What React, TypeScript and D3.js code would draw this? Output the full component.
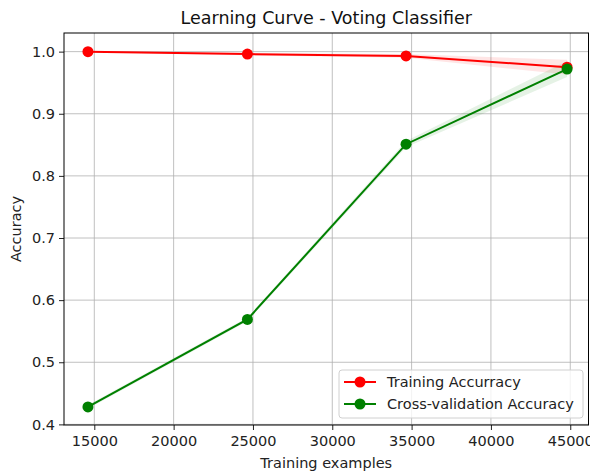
import React, { useRef, useEffect } from 'react';
import * as d3 from 'd3';

const trainSizes = [14600, 24650, 34650, 44800];
const trainMean = [1.0, 0.996, 0.993, 0.975];
const trainStd = [0.0005, 0.002, 0.003, 0.012];
const cvMean = [0.428, 0.569, 0.851, 0.972];
const cvStd = [0.003, 0.003, 0.005, 0.013];
const xTicks = [15000, 20000, 25000, 30000, 35000, 40000, 45000];
const yTicks = [0.4, 0.5, 0.6, 0.7, 0.8, 0.9, 1.0];

const FONT = 'DejaVu Sans, sans-serif';
const FS = 14.5;

export default function App() {
  const ref = useRef<SVGSVGElement | null>(null);

  useEffect(() => {
    const svg = d3.select(ref.current);
    svg.selectAll('*').remove();

    const W = 590;
    const H = 473;
    const margin = { top: 33, right: 1.5, bottom: 48, left: 64 };
    const width = W - margin.left - margin.right;
    const height = H - margin.top - margin.bottom;

    const x = d3.scaleLinear().domain([13090, 46150]).range([0, width]);
    const y = d3.scaleLinear().domain([0.399, 1.03]).range([height, 0]);

    svg.attr('width', W).attr('height', H);
    svg.append('rect').attr('width', W).attr('height', H).attr('fill', '#fff');

    const chart = svg.append('g')
      .attr('transform', `translate(${margin.left},${margin.top})`);

    // Grid
    chart.append('g')
      .selectAll('line')
      .data(xTicks)
      .join('line')
      .attr('x1', d => x(d)).attr('x2', d => x(d))
      .attr('y1', 0).attr('y2', height)
      .attr('stroke', '#b0b0b0').attr('stroke-width', 0.8);
    chart.append('g')
      .selectAll('line')
      .data(yTicks)
      .join('line')
      .attr('y1', d => y(d)).attr('y2', d => y(d))
      .attr('x1', 0).attr('x2', width)
      .attr('stroke', '#b0b0b0').attr('stroke-width', 0.8);

    const pts = trainSizes.map((s, i) => ({
      s, tm: trainMean[i], ts: trainStd[i], cm: cvMean[i], cs: cvStd[i],
    }));
    type P = typeof pts[number];

    // Std bands
    const bandTrain = d3.area<P>()
      .x(d => x(d.s)).y0(d => y(d.tm - d.ts)).y1(d => y(d.tm + d.ts));
    const bandCv = d3.area<P>()
      .x(d => x(d.s)).y0(d => y(d.cm - d.cs)).y1(d => y(d.cm + d.cs));
    chart.append('path').attr('d', bandTrain(pts)!).attr('fill', 'red').attr('fill-opacity', 0.1);
    chart.append('path').attr('d', bandCv(pts)!).attr('fill', 'green').attr('fill-opacity', 0.1);

    const series = [
      { key: 'train', color: 'red', vals: trainMean },
      { key: 'cv', color: 'green', vals: cvMean },
    ];
    const line = d3.line<number>()
      .x((_, i) => x(trainSizes[i]))
      .y(d => y(d));

    series.forEach(s => {
      chart.append('path')
        .attr('d', line(s.vals)!)
        .attr('fill', 'none')
        .attr('stroke', s.color)
        .attr('stroke-width', 2);
      chart.append('g')
        .selectAll('circle')
        .data(s.vals)
        .join('circle')
        .attr('cx', (_, i) => x(trainSizes[i]))
        .attr('cy', d => y(d))
        .attr('r', 5.5)
        .attr('fill', s.color);
    });

    // Axes
    const xAxis = chart.append('g')
      .attr('transform', `translate(0,${height})`)
      .call(d3.axisBottom(x).tickValues(xTicks).tickSize(5).tickPadding(6).tickFormat(d => String(d)));
    const yAxis = chart.append('g')
      .call(d3.axisLeft(y).tickValues(yTicks).tickSize(5).tickPadding(4).tickFormat(d3.format('.1f')));
    [xAxis, yAxis].forEach(a => {
      a.select('.domain').remove();
      a.selectAll('text').attr('font-family', FONT).attr('font-size', FS).attr('fill', '#222');
      a.selectAll('line').attr('stroke', '#222').attr('stroke-width', 1);
    });

    // Frame
    chart.append('rect')
      .attr('width', width).attr('height', height)
      .attr('fill', 'none').attr('stroke', '#000').attr('stroke-width', 1);

    // Legend
    const lg = chart.append('g').attr('transform', `translate(${339 - margin.left},${370 - margin.top})`);
    lg.append('rect')
      .attr('width', 244).attr('height', 48).attr('rx', 3)
      .attr('fill', '#fff').attr('fill-opacity', 0.8)
      .attr('stroke', '#d0d0d0');
    const labels = ['Training Accurracy', 'Cross-validation Accuracy'];
    series.forEach((s, i) => {
      const yy = 12 + i * 22;
      lg.append('line').attr('x1', 5).attr('x2', 37).attr('y1', yy).attr('y2', yy)
        .attr('stroke', s.color).attr('stroke-width', 2);
      lg.append('circle').attr('cx', 21).attr('cy', yy).attr('r', 5.5).attr('fill', s.color);
      lg.append('text').attr('x', 48).attr('y', yy).attr('dy', '0.35em')
        .attr('font-family', FONT).attr('font-size', FS).attr('fill', '#222')
        .text(labels[i]);
    });

    // Title and axis labels
    svg.append('text')
      .attr('x', margin.left + width / 2).attr('y', 24)
      .attr('text-anchor', 'middle')
      .attr('font-family', FONT).attr('font-size', 17.5).attr('fill', '#111')
      .text('Learning Curve - Voting Classifier');
    svg.append('text')
      .attr('x', margin.left + width / 2).attr('y', 468)
      .attr('text-anchor', 'middle')
      .attr('font-family', FONT).attr('font-size', FS).attr('fill', '#222')
      .text('Training examples');
    svg.append('text')
      .attr('transform', `translate(21,${margin.top + height / 2}) rotate(-90)`)
      .attr('text-anchor', 'middle')
      .attr('font-family', FONT).attr('font-size', FS).attr('fill', '#222')
      .text('Accuracy');
  }, []);

  return (
    <div style={{ position: 'absolute', left: 0, top: 0 }}>
      <svg ref={ref} style={{ display: 'block' }} />
    </div>
  );
}
